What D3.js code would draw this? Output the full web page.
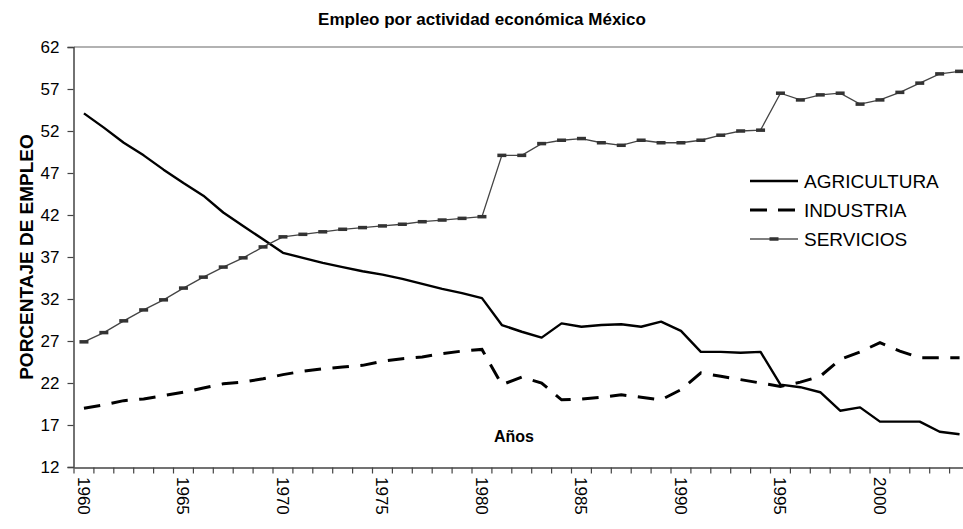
<!DOCTYPE html>
<html>
<head>
<meta charset="utf-8">
<script src="https://cdn.jsdelivr.net/npm/d3@7"></script>
<style>
  html, body { margin: 0; padding: 0; background: #fff; }
  svg { display: block; font-family: "Liberation Sans", Arial, sans-serif; }
</style>
</head>
<body>
<svg id="chart" width="963" height="529"></svg>
<script>
const years = d3.range(1960, 2005);
const agricultura = [54.1, 52.4, 50.6, 49.1, 47.4, 45.8, 44.3, 42.3, 40.7, 39.1,
  37.5, 36.9, 36.3, 35.8, 35.3, 34.9, 34.4, 33.8, 33.2, 32.7,
  32.1, 28.9, 28.1, 27.4, 29.1, 28.7, 28.9, 29.0, 28.7, 29.3,
  28.2, 25.7, 25.7, 25.6, 25.7, 21.8, 21.5, 20.9, 18.7, 19.1,
  17.4, 17.4, 17.4, 16.2, 15.9];
const industria = [19.0, 19.4, 19.9, 20.1, 20.5, 20.9, 21.4, 21.9, 22.1, 22.5,
  23.0, 23.4, 23.7, 23.9, 24.1, 24.6, 24.9, 25.1, 25.5, 25.8,
  26.0, 21.8, 22.7, 22.0, 20.0, 20.1, 20.3, 20.6, 20.3, 20.0,
  21.2, 23.2, 22.8, 22.4, 22.0, 21.6, 22.1, 22.8, 24.8, 25.7,
  26.8, 25.8, 25.0, 25.0, 25.0];
const servicios = [26.9, 28.0, 29.4, 30.7, 31.9, 33.3, 34.6, 35.8, 36.9, 38.2,
  39.4, 39.7, 40.0, 40.3, 40.5, 40.7, 40.9, 41.2, 41.4, 41.6,
  41.8, 49.1, 49.1, 50.5, 50.9, 51.1, 50.6, 50.3, 50.9, 50.6,
  50.6, 50.9, 51.5, 52.0, 52.1, 56.5, 55.7, 56.3, 56.5, 55.2,
  55.7, 56.6, 57.7, 58.8, 59.1];
const yTicks = [12, 17, 22, 27, 32, 37, 42, 47, 52, 57, 62];
const xLabelYears = [1960, 1965, 1970, 1975, 1980, 1985, 1990, 1995, 2000];
const seriesNames = ["AGRICULTURA", "INDUSTRIA", "SERVICIOS"];
const chartTitle = "Empleo por actividad económica México";
const yTitle = "PORCENTAJE DE EMPLEO";
const xTitle = "Años";

(function () {
const svg = d3.select("#chart");
const pLeft = 74, pTop = 47, pBottom = 467, catW = 19.9;
const x = d3.scaleBand().domain(years).range([pLeft, pLeft + years.length * catW]).padding(0);
const y = d3.scaleLinear().domain([12, 62]).range([pBottom, pTop]);
const cx = d => x(d) + x.bandwidth() / 2;

// title
svg.append("text").attr("x", 482).attr("y", 25).attr("text-anchor", "middle")
  .attr("font-weight", "bold").attr("font-size", 17).attr("fill", "#000").text(chartTitle);

// top border line
svg.append("line").attr("x1", pLeft).attr("x2", 963).attr("y1", y(62)).attr("y2", y(62))
  .attr("stroke", "#999").attr("stroke-width", 1.5);

// y axis
const yAxis = d3.axisLeft(y).tickValues(yTicks).tickSize(6).tickPadding(8).tickFormat(d3.format("d"));
const gy = svg.append("g").attr("transform", `translate(${pLeft - 0.5},0)`).call(yAxis);
gy.select(".domain").attr("stroke", "#444").attr("stroke-width", 1.5);
gy.selectAll(".tick line").attr("stroke", "#444").attr("stroke-width", 1.2);
gy.selectAll(".tick text").attr("font-size", 17).attr("fill", "#000")
  .attr("font-family", "Liberation Sans, Arial, sans-serif");

// x axis
const xAxis = d3.axisBottom(x).tickValues([]).tickSizeOuter(0);
const gx = svg.append("g").attr("transform", `translate(0,${pBottom + 0.5})`).call(xAxis);
gx.select(".domain").attr("stroke", "#444").attr("stroke-width", 1.5);
const boundaries = years.map(d => x(d)).concat([x(years[years.length - 1]) + x.bandwidth()]);
gx.selectAll("line.bt").data(boundaries).enter().append("line").attr("class", "bt")
  .attr("x1", d => d).attr("x2", d => d).attr("y1", 0).attr("y2", 6)
  .attr("stroke", "#444").attr("stroke-width", 1.2);
svg.selectAll("text.xl").data(xLabelYears).enter().append("text").attr("class", "xl")
  .attr("transform", d => `translate(${cx(d)},${pBottom + 10}) rotate(90)`)
  .attr("dy", "0.35em").attr("text-anchor", "start")
  .attr("font-size", 17).attr("fill", "#000").text(d => d);

// axis titles
svg.append("text").attr("transform", `translate(33,257) rotate(-90)`)
  .attr("text-anchor", "middle").attr("font-weight", "bold").attr("font-size", 19)
  .attr("fill", "#000").text(yTitle);
svg.append("text").attr("x", 514).attr("y", 442).attr("text-anchor", "middle")
  .attr("font-weight", "bold").attr("font-size", 16).attr("fill", "#000").text(xTitle);

const line = d3.line().x((d, i) => cx(years[i])).y(d => y(d));

svg.append("path").datum(agricultura).attr("d", line).attr("fill", "none")
  .attr("stroke", "#000").attr("stroke-width", 2.4).attr("stroke-linejoin", "round");
svg.append("path").datum(industria).attr("d", line).attr("fill", "none")
  .attr("stroke", "#000").attr("stroke-width", 3).attr("stroke-dasharray", "16.5,11.5");
svg.append("path").datum(servicios).attr("d", line).attr("fill", "none")
  .attr("stroke", "#444").attr("stroke-width", 1.3);
svg.selectAll("rect.mk").data(servicios).enter().append("rect").attr("class", "mk")
  .attr("x", (d, i) => cx(years[i]) - 4.5).attr("y", d => y(d) - 1.75)
  .attr("width", 9).attr("height", 3.5).attr("fill", "#333");

// legend
const legY = [181, 210, 239];
const lg = svg.append("g");
lg.append("line").attr("x1", 750).attr("x2", 798).attr("y1", legY[0]).attr("y2", legY[0])
  .attr("stroke", "#000").attr("stroke-width", 2.4);
lg.append("line").attr("x1", 750).attr("x2", 798).attr("y1", legY[1]).attr("y2", legY[1])
  .attr("stroke", "#000").attr("stroke-width", 3).attr("stroke-dasharray", "17,11");
lg.append("line").attr("x1", 750).attr("x2", 798).attr("y1", legY[2]).attr("y2", legY[2])
  .attr("stroke", "#555").attr("stroke-width", 1.3);
lg.append("rect").attr("x", 769.5).attr("y", legY[2] - 1.75).attr("width", 9).attr("height", 3.5).attr("fill", "#333");
lg.selectAll("text").data(seriesNames).enter().append("text")
  .attr("x", 804).attr("y", (d, i) => legY[i]).attr("dy", "0.35em")
  .attr("font-size", 19).attr("fill", "#000").text(d => d);
})();
</script>
</body>
</html>
